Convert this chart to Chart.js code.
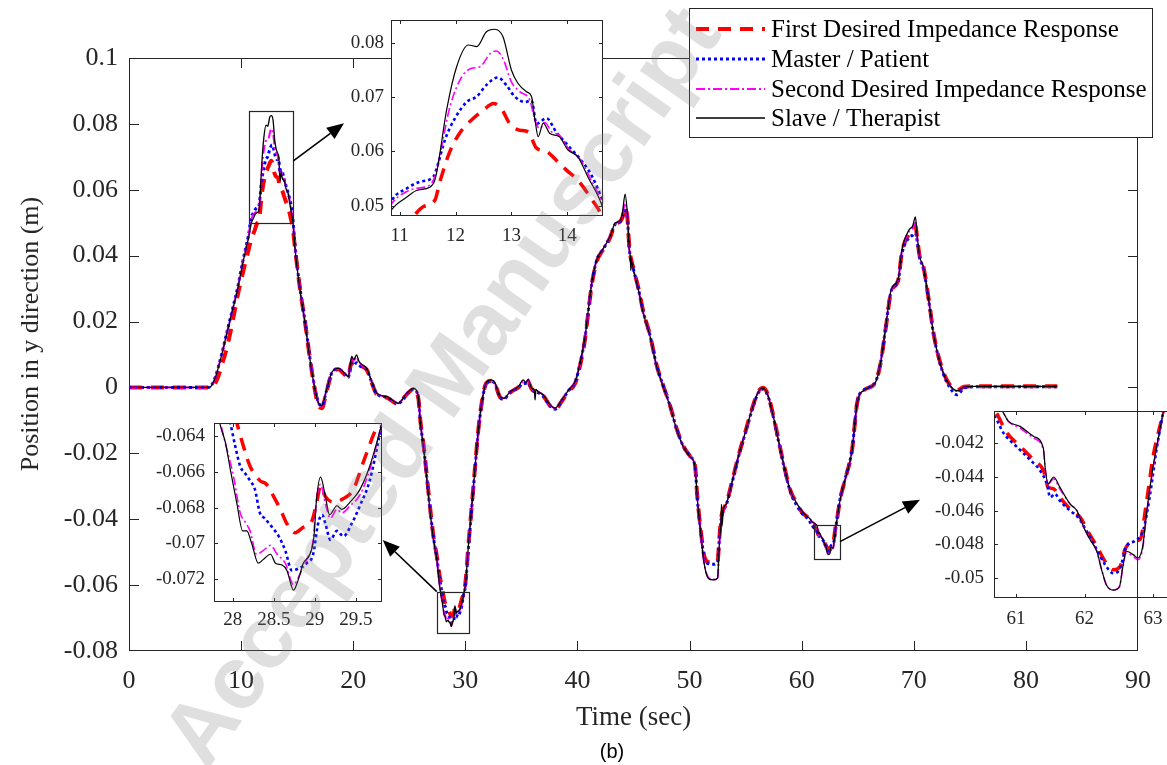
<!DOCTYPE html>
<html>
<head>
<meta charset="utf-8">
<script src="https://cdn.jsdelivr.net/npm/chart.js@4.4.0/dist/chart.umd.min.js"></script>
<style>
  html, body { margin: 0; padding: 0; background: #fff; overflow: hidden; }
  #stage { position: relative; width: 1167px; height: 765px; overflow: hidden; background: #fff; }
  #stage canvas { position: absolute; }
  #edge { position: absolute; left: 1137px; top: 405px; width: 1px; height: 200px; background: #262626; }
  #caption { position: absolute; left: 562px; top: 740px; width: 100px; text-align: center;
             font: 20px "Liberation Sans", Arial, sans-serif; line-height: 22px; color: #000; }
  #watermark { position: absolute; left: 440px; top: 385px; white-space: nowrap; pointer-events: none;
               font: bold 89px "Liberation Sans", Arial, sans-serif; color: rgba(128,128,128,0.25);
               transform: translate(-50%, -50%) rotate(-55deg); }
</style>
</head>
<body>
<div id="stage">
  <canvas id="main" width="1167" height="765" style="left:0;top:0"></canvas>
  <canvas id="zoom1" width="300" height="250" style="left:320px;top:10px"></canvas>
  <canvas id="zoom2" width="260" height="230" style="left:140px;top:410px"></canvas>
  <canvas id="zoom3" width="250" height="250" style="left:930px;top:400px"></canvas>
  <div id="edge"></div>
  <div id="caption">(b)</div>
  <div id="watermark">Accepted Manuscript</div>
</div>
<script>
// time (s), position (m)
const first = [
  [0,0],[7.3,0],[7.8,0.002],[8.3,0.007],[8.8,0.013],[9.3,0.021],[9.7,0.028],[10.1,0.034],[10.5,0.0395],[10.9,0.0448],[11.24,0.048],
  [11.42,0.0498],[11.63,0.051],[11.72,0.0544],[11.9,0.06],[12.11,0.0639],[12.32,0.0661],[12.5,0.0676],[12.68,0.0688],[12.82,0.0679],
  [12.97,0.0651],[13.15,0.0639],[13.3,0.0636],[13.45,0.0606],[13.63,0.06],[13.8,0.0584],[13.98,0.0566],[14.19,0.0547],[14.45,0.051],[14.61,0.0483],
  [14.8,0.0425],[15.25,0.03],[15.7,0.0199],[16.15,0.0085],[16.6,-0.0012],[16.9,-0.0054],[17.2,-0.0063],[17.6,-0.0016],[18.1,0.0043],
  [18.67,0.0055],[19.2,0.004],[19.57,0.003],[19.75,0.0065],[19.87,0.0078],[20.05,0.0075],[20.3,0.0082],[20.5,0.0074],[20.75,0.0065],
  [21.2,0.0054],[21.65,0.0014],[22.1,-0.0021],[23,-0.0031],[24,-0.005],[24.77,-0.0021],[25.36,-0.0006],[25.8,-0.0031],[26,-0.0104],
  [26.3,-0.0182],[26.6,-0.028],[26.9,-0.0378],[27.2,-0.0462],[27.45,-0.051],[27.7,-0.057],[27.9,-0.0605],
  [28.05,-0.0633],[28.13,-0.0646],[28.21,-0.0657],[28.33,-0.0665],[28.41,-0.0667],[28.5,-0.0674],[28.58,-0.0681],[28.66,-0.0689],
  [28.76,-0.0694],[28.86,-0.0691],[28.96,-0.0688],[29.02,-0.0678],[29.07,-0.0668],[29.13,-0.0674],[29.23,-0.0677],[29.35,-0.0675],
  [29.47,-0.067],[29.59,-0.0655],[29.72,-0.0639],[29.78,-0.0633],
  [30,-0.0595],[30.3,-0.0468],[30.6,-0.0348],[30.9,-0.0228],[31.16,-0.0128],[31.46,-0.0047],[31.85,0.0012],[32.35,0.002],[32.65,0.001],
  [33.1,-0.003],[33.45,-0.0035],[34,-0.0015],[34.73,0],[35.17,0.0014],[35.62,0.0015],[35.92,-0.0005],[36.5,-0.0016],[36.96,-0.0026],
  [37.56,-0.0056],[38,-0.0067],[38.6,-0.0042],[39.2,-0.0012],[39.8,0.0013],[40.23,0.0066],[40.68,0.0147],[40.97,0.0228],[41.27,0.031],
  [41.72,0.0382],[42.31,0.0419],[42.91,0.0455],[43.35,0.0494],[43.8,0.0503],[44,0.0515],[44.25,0.0545],[44.45,0.0518],[44.63,0.0425],
  [44.99,0.0362],[45.44,0.0301],[45.88,0.023],[46.48,0.0158],[47.07,0.0067],[47.66,0.0005],[48.26,-0.0055],[48.86,-0.0126],
  [49.45,-0.0178],[50.04,-0.0208],[50.49,-0.0238],[50.7,-0.0335],[51,-0.0432],[51.3,-0.051],[51.68,-0.053],[52.1,-0.0532],[52.5,-0.0528],
  [52.66,-0.0455],[52.8,-0.04],[53,-0.0372],[53.3,-0.035],[53.76,-0.029],[54.35,-0.0209],[54.95,-0.0138],[55.55,-0.0067],[56.14,-0.0012],
  [56.58,-0.0001],[57.03,-0.0026],[57.48,-0.0087],[57.92,-0.0157],[58.37,-0.0228],[58.97,-0.031],[59.56,-0.0352],[60.1,-0.0382],[60.5,-0.0393],
  [60.7,-0.0401],[60.87,-0.0414],[61.04,-0.0421],[61.26,-0.043],[61.4,-0.0436],[61.47,-0.0446],[61.55,-0.0447],[61.64,-0.0452],
  [61.79,-0.0459],[61.94,-0.0464],[62.06,-0.0473],[62.18,-0.0481],[62.3,-0.049],[62.42,-0.0495],[62.52,-0.0493],[62.59,-0.0483],
  [62.71,-0.0478],[62.81,-0.0477],[62.9,-0.0456],[63,-0.0428],[63.15,-0.0401],
  [63.43,-0.034],[63.87,-0.028],[64.5,-0.0189],[64.95,-0.0047],[65.6,-0.0007],[66.55,0.0014],[67.03,0.0072],[67.5,0.018],[67.98,0.029],
  [68.62,0.0327],[68.94,0.041],[69.57,0.0465],[69.9,0.0475],[70.15,0.049],[70.3,0.0455],[70.53,0.0397],[70.85,0.0368],[71.33,0.0268],
  [71.8,0.0157],[72.44,0.0066],[73.08,0.0015],[73.87,-0.0008],[74.5,0.0002],[75.5,0.0004],[82.8,0.0004]
];

const master = [
  [0,0],[7,0],[7.3,0.0004],[7.7,0.0032],[8.2,0.0092],[8.7,0.0163],[9.2,0.0233],[9.7,0.0305],[10.1,0.0375],[10.4,0.0422],[10.7,0.047],
  [10.86,0.051],[11.13,0.0532],[11.36,0.0544],[11.6,0.0553],[11.69,0.0578],[11.81,0.0621],[11.99,0.0661],[12.2,0.0691],[12.38,0.0701],
  [12.55,0.0722],[12.76,0.0736],[12.91,0.0722],[13.06,0.0701],[13.24,0.0691],[13.36,0.0694],[13.45,0.0651],[13.63,0.0661],[13.8,0.0636],
  [14.04,0.0608],[14.27,0.0581],[14.45,0.0553],[14.64,0.0504],
  [14.8,0.0432],[15.25,0.0302],[15.7,0.0201],[16.15,0.0087],[16.6,-0.0006],[16.9,-0.0046],[17.2,-0.0056],[17.6,-0.0012],[18.1,0.0045],
  [18.67,0.0056],[19.2,0.0042],[19.57,0.0031],[19.75,0.006],[19.87,0.0072],[20.05,0.0068],[20.3,0.0075],[20.5,0.0068],[20.75,0.0062],
  [21.2,0.0054],[21.65,0.0016],[22.1,-0.0019],[23,-0.003],[24,-0.0049],[24.77,-0.002],[25.36,-0.0005],[25.8,-0.003],[26,-0.0108],
  [26.3,-0.0188],[26.6,-0.0286],[26.9,-0.0385],[27.2,-0.0465],[27.45,-0.0515],[27.7,-0.058],
  [27.97,-0.0633],[28.03,-0.0646],[28.09,-0.0657],[28.15,-0.0661],[28.21,-0.0665],[28.27,-0.067],[28.33,-0.0683],[28.39,-0.0686],
  [28.48,-0.0691],[28.56,-0.0696],[28.64,-0.0704],[28.72,-0.0715],[28.8,-0.0714],[28.9,-0.0711],[28.98,-0.0706],[29.04,-0.0689],
  [29.09,-0.0684],[29.13,-0.0689],[29.19,-0.0698],[29.27,-0.0693],[29.35,-0.0696],[29.45,-0.0689],[29.55,-0.0679],[29.67,-0.0665],
  [29.78,-0.0642],[29.82,-0.0633],
  [30,-0.0605],[30.3,-0.0478],[30.6,-0.0356],[30.9,-0.0234],[31.16,-0.0133],[31.46,-0.0051],[31.85,0.0011],[32.35,0.002],[32.65,0.001],
  [33.1,-0.003],[33.45,-0.0035],[34,-0.0015],[34.73,0],[35.17,0.0012],[35.62,0.0013],[35.92,-0.0006],[36.5,-0.0016],[36.96,-0.0026],
  [37.56,-0.0056],[38,-0.0066],[38.6,-0.004],[39.2,-0.001],[39.8,0.0016],[40.23,0.0071],[40.68,0.0152],[40.97,0.0233],[41.27,0.0314],
  [41.72,0.0386],[42.31,0.0421],[42.91,0.0457],[43.35,0.0495],[43.8,0.0503],[44,0.0514],[44.25,0.0545],[44.45,0.0515],[44.63,0.042],
  [44.99,0.036],[45.44,0.0299],[45.88,0.0228],[46.48,0.0157],[47.07,0.0066],[47.66,0.0004],[48.26,-0.0056],[48.86,-0.0127],
  [49.45,-0.0179],[50.04,-0.0209],[50.49,-0.0241],[50.7,-0.034],[51,-0.0438],[51.3,-0.0515],[51.68,-0.0535],[52.1,-0.0537],[52.5,-0.053],
  [52.66,-0.046],[52.8,-0.0405],[53,-0.0375],[53.3,-0.0354],[53.76,-0.0294],[54.35,-0.0213],[54.95,-0.0142],[55.55,-0.0071],[56.14,-0.0016],
  [56.58,-0.0005],[57.03,-0.003],[57.48,-0.0091],[57.92,-0.0161],[58.37,-0.0233],[58.97,-0.0315],[59.56,-0.0358],[60.1,-0.0385],[60.5,-0.0396],
  [60.69,-0.0404],[60.82,-0.0414],[61.01,-0.0422],[61.21,-0.043],[61.35,-0.0436],[61.45,-0.0444],[61.5,-0.0452],[61.57,-0.045],
  [61.64,-0.0454],[61.79,-0.046],[61.91,-0.0464],[62.03,-0.0472],[62.18,-0.0483],[62.3,-0.0492],[62.42,-0.0497],[62.52,-0.0494],
  [62.61,-0.0481],[62.73,-0.0478],[62.86,-0.0471],[62.95,-0.0452],[63.05,-0.0424],[63.15,-0.0401],
  [63.43,-0.0338],[63.87,-0.0278],[64.5,-0.0187],[64.95,-0.0046],[65.6,-0.0007],[66.55,0.0014],[67.03,0.0074],[67.5,0.0183],[67.98,0.0292],
  [68.62,0.0326],[68.94,0.0405],[69.57,0.0455],[69.9,0.0462],[70.15,0.047],[70.3,0.0445],[70.53,0.0392],[70.85,0.0363],[71.33,0.0264],
  [71.8,0.0154],[72.44,0.0062],[73.08,0.0008],[73.87,-0.0022],[74.5,-0.0002],[75.5,0.0002],[82.8,0.0002]
];

const second = [
  [0,0],[7,0],[7.3,0.0003],[7.7,0.003],[8.2,0.009],[8.7,0.016],[9.2,0.023],[9.7,0.0302],[10.1,0.0372],[10.4,0.0418],[10.7,0.0468],
  [10.86,0.0504],[11.13,0.0526],[11.3,0.0532],[11.54,0.0538],[11.65,0.056],[11.75,0.0609],[11.9,0.0682],[12.11,0.0737],[12.29,0.0753],
  [12.44,0.0756],[12.62,0.078],[12.73,0.0785],[12.85,0.0771],[13,0.0728],[13.15,0.071],[13.33,0.0694],[13.42,0.0658],[13.51,0.0642],
  [13.6,0.0653],[13.72,0.0636],[13.86,0.063],[14.04,0.0603],[14.22,0.0587],[14.4,0.0553],[14.64,0.0498],
  [14.8,0.0427],[15.25,0.0297],[15.7,0.0197],[16.15,0.0084],[16.6,-0.0008],[16.9,-0.0048],[17.2,-0.0056],[17.6,-0.0011],[18.1,0.0046],
  [18.67,0.0057],[19.2,0.0043],[19.57,0.0032],[19.75,0.0072],[19.87,0.0088],[20.05,0.0082],[20.3,0.0092],[20.5,0.0077],[20.75,0.0068],
  [21.2,0.0057],[21.65,0.0017],[22.1,-0.0018],[23,-0.0029],[24,-0.0048],[24.77,-0.0019],[25.36,-0.0004],[25.8,-0.0029],[26,-0.0108],
  [26.3,-0.0188],[26.6,-0.0288],[26.9,-0.0388],[27.2,-0.0468],[27.45,-0.0518],[27.7,-0.0598],
  [27.85,-0.0633],[27.93,-0.0648],[28.01,-0.0663],[28.09,-0.0683],[28.15,-0.0688],[28.21,-0.0693],[28.29,-0.0706],[28.37,-0.0704],
  [28.46,-0.0701],[28.54,-0.0706],[28.64,-0.0711],[28.74,-0.0723],[28.82,-0.0717],[28.9,-0.0709],[28.98,-0.0698],[29.02,-0.0676],
  [29.07,-0.0667],[29.13,-0.0678],[29.19,-0.0686],[29.27,-0.0681],[29.33,-0.0683],[29.43,-0.0679],[29.55,-0.0673],[29.67,-0.0659],[29.82,-0.0633],
  [30,-0.0601],[30.3,-0.0471],[30.6,-0.0351],[30.9,-0.0231],[31.16,-0.0131],[31.46,-0.0049],[31.85,0.0012],[32.35,0.0022],[32.65,0.0012],
  [33.1,-0.0028],[33.45,-0.0033],[34,-0.0013],[34.73,0.0002],[35.17,0.0018],[35.62,0.002],[35.92,-0.0004],[36.5,-0.0013],[36.96,-0.0023],
  [37.56,-0.0053],[38,-0.0063],[38.6,-0.0038],[39.2,-0.0008],[39.8,0.0018],[40.23,0.0073],[40.68,0.0154],[40.97,0.0235],[41.27,0.0316],
  [41.72,0.0387],[42.31,0.0422],[42.91,0.0458],[43.35,0.0497],[43.8,0.0505],[44,0.052],[44.25,0.056],[44.45,0.0522],[44.63,0.0417],
  [44.99,0.0357],[45.44,0.0296],[45.88,0.0225],[46.48,0.0154],[47.07,0.0063],[47.66,0.0002],[48.26,-0.0058],[48.86,-0.0129],
  [49.45,-0.018],[50.04,-0.021],[50.49,-0.024],[50.7,-0.0341],[51,-0.0443],[51.3,-0.0532],[51.68,-0.0578],[52.1,-0.0583],[52.5,-0.0578],
  [52.66,-0.0472],[52.8,-0.041],[53,-0.0378],[53.3,-0.0352],[53.76,-0.0291],[54.35,-0.021],[54.95,-0.0139],[55.55,-0.0068],[56.14,-0.0013],
  [56.58,-0.0002],[57.03,-0.0028],[57.48,-0.0089],[57.92,-0.0159],[58.37,-0.023],[58.97,-0.0311],[59.56,-0.0352],[60.1,-0.0378],[60.5,-0.0392],
  [60.8,-0.0401],[60.89,-0.0407],[61.06,-0.0411],[61.26,-0.0417],[61.4,-0.0424],[61.43,-0.0436],[61.47,-0.0444],[61.55,-0.0441],
  [61.64,-0.0447],[61.79,-0.0456],[61.89,-0.046],[61.98,-0.0469],[62.08,-0.0477],[62.18,-0.0484],[62.25,-0.0495],[62.32,-0.0504],
  [62.42,-0.0507],[62.51,-0.0505],[62.56,-0.0493],[62.61,-0.0485],[62.71,-0.0487],[62.78,-0.0489],[62.85,-0.0482],[62.9,-0.0464],
  [63,-0.0435],[63.1,-0.0413],[63.15,-0.0402],
  [63.43,-0.0342],[63.87,-0.0282],[64.5,-0.0191],[64.95,-0.0049],[65.6,-0.0009],[66.55,0.0013],[67.03,0.0073],[67.5,0.0184],[67.98,0.0295],
  [68.62,0.033],[68.94,0.0414],[69.57,0.0473],[69.9,0.0482],[70.15,0.05],[70.3,0.0455],[70.53,0.0396],[70.85,0.0366],[71.33,0.0265],
  [71.8,0.0154],[72.44,0.0063],[73.08,0.0013],[73.87,-0.0011],[74.5,0.0001],[75.5,0.0003],[82.8,0.0003]
];

const slave = [
  [0,0],[7,0],[7.3,0.0003],[7.7,0.003],[8.2,0.009],[8.7,0.016],[9.2,0.023],[9.7,0.03],[10.1,0.037],[10.4,0.0415],[10.7,0.046],
  [10.86,0.0493],[11.13,0.0516],[11.3,0.0528],[11.54,0.0534],[11.63,0.0547],[11.69,0.0577],[11.84,0.0676],[12.02,0.0756],[12.23,0.0796],
  [12.38,0.0793],[12.55,0.082],[12.7,0.0825],[12.85,0.0811],[13,0.075],[13.12,0.0725],[13.27,0.071],[13.36,0.0701],[13.42,0.066],
  [13.48,0.0627],[13.57,0.0652],[13.69,0.0633],[13.86,0.0627],[14.01,0.0603],[14.19,0.059],[14.37,0.0553],[14.64,0.0495],
  [14.8,0.0425],[15.25,0.0296],[15.7,0.0196],[16.15,0.0083],[16.6,-0.0008],[16.9,-0.0047],[17.2,-0.0055],[17.6,-0.001],[18.1,0.0046],
  [18.67,0.0058],[19.2,0.0044],[19.57,0.0033],[19.75,0.0075],[19.87,0.0094],[20.05,0.0085],[20.3,0.0099],[20.5,0.008],[20.75,0.007],
  [21.2,0.0058],[21.65,0.0018],[22.1,-0.0018],[23,-0.0028],[24,-0.0048],[24.77,-0.0018],[25.36,-0.0003],[25.8,-0.0028],[26,-0.011],
  [26.3,-0.019],[26.6,-0.029],[26.9,-0.039],[27.2,-0.047],[27.45,-0.052],[27.7,-0.06],
  [27.84,-0.0633],[27.91,-0.0644],[27.97,-0.0659],[28.05,-0.0678],[28.12,-0.0693],[28.17,-0.0693],[28.23,-0.07],[28.31,-0.0711],
  [28.37,-0.0709],[28.46,-0.0706],[28.52,-0.0711],[28.6,-0.0712],[28.66,-0.0715],[28.74,-0.0726],[28.8,-0.072],[28.86,-0.0711],
  [28.94,-0.0706],[28.99,-0.0696],[29.02,-0.0676],[29.07,-0.0663],[29.13,-0.0674],[29.18,-0.0684],[29.27,-0.0679],[29.33,-0.0681],
  [29.43,-0.0677],[29.55,-0.067],[29.67,-0.0657],[29.82,-0.0633],
  [30,-0.06],[30.3,-0.047],[30.6,-0.035],[30.9,-0.023],[31.16,-0.013],[31.46,-0.0048],[31.85,0.0013],[32.35,0.0023],[32.65,0.0013],
  [33.1,-0.0028],[33.45,-0.0033],[34,-0.0013],[34.73,0.0002],[35.17,0.0023],[35.4,0.0015],[35.62,0.0025],[35.92,-0.0003],[36.15,-0.0008],
  [36.22,-0.0038],[36.3,-0.0006],[36.5,-0.0013],[36.96,-0.0023],[37.56,-0.0053],[38,-0.0063],[38.6,-0.0038],[39.2,-0.0008],[39.8,0.0018],
  [40.23,0.0073],[40.68,0.0154],[40.97,0.0235],[41.27,0.0316],[41.72,0.0387],[42.31,0.0422],[42.91,0.0458],[43.35,0.0498],[43.8,0.0506],
  [44,0.0525],[44.25,0.0587],[44.45,0.0528],[44.63,0.0417],[44.72,0.0395],[44.76,0.0355],[44.8,0.0385],[44.99,0.0357],[45.44,0.0296],
  [45.88,0.0225],[46.48,0.0154],[47.07,0.0063],[47.66,0.0002],[48.26,-0.0058],[48.86,-0.0129],[49.45,-0.018],[50.04,-0.021],[50.49,-0.024],
  [50.7,-0.0341],[51,-0.0443],[51.3,-0.0534],[51.68,-0.0579],[52.1,-0.0584],[52.5,-0.0579],[52.66,-0.0473],[52.8,-0.041],[52.85,-0.0355],
  [52.9,-0.042],[53,-0.0375],[53.3,-0.0352],[53.76,-0.0291],[54.35,-0.021],[54.95,-0.0139],[55.55,-0.0068],[56.14,-0.0013],[56.58,-0.0002],
  [57.03,-0.0028],[57.48,-0.0089],[57.92,-0.0159],[58.37,-0.023],[58.97,-0.0311],[59.56,-0.0352],[60.1,-0.0378],[60.5,-0.0392],
  [60.8,-0.0401],[60.89,-0.0407],[61.06,-0.041],[61.26,-0.0416],[61.4,-0.0423],[61.43,-0.0436],[61.47,-0.0444],[61.55,-0.044],
  [61.64,-0.0446],[61.79,-0.0456],[61.89,-0.046],[61.98,-0.0469],[62.08,-0.0477],[62.18,-0.0484],[62.25,-0.0495],[62.32,-0.0504],
  [62.42,-0.0507],[62.51,-0.0505],[62.56,-0.0493],[62.61,-0.0484],[62.71,-0.0486],[62.78,-0.0488],[62.85,-0.0481],[62.9,-0.0463],
  [63,-0.0434],[63.1,-0.0412],[63.15,-0.0401],
  [63.43,-0.0341],[63.87,-0.0281],[64.5,-0.019],[64.95,-0.0048],[65.6,-0.0008],[66.55,0.0013],[67.03,0.0073],[67.5,0.0185],[67.98,0.0296],
  [68.62,0.0331],[68.94,0.0417],[69.57,0.0478],[69.9,0.049],[70.15,0.0518],[70.3,0.046],[70.53,0.0397],[70.85,0.0367],[71.33,0.0266],
  [71.8,0.0154],[72.44,0.0063],[73.08,0.0013],[73.87,-0.001],[74.5,0.0001],[75.5,0.0003],[82.8,0.0003]
];

const seriesLabels = ['First Desired Impedance Response', 'Master / Patient', 'Second Desired Impedance Response', 'Slave / Therapist'];
const seriesList = [first, master, second, slave];

const xTicksMain = [0, 10, 20, 30, 40, 50, 60, 70, 80, 90];
const yTicksMain = [-0.08, -0.06, -0.04, -0.02, 0, 0.02, 0.04, 0.06, 0.08, 0.1];
const xTicksZoom1 = [11, 12, 13, 14];
const yTicksZoom1 = [0.05, 0.06, 0.07, 0.08];
const xTicksZoom2 = [28, 28.5, 29, 29.5];
const yTicksZoom2 = [-0.072, -0.07, -0.068, -0.066, -0.064];
const xTicksZoom3 = [61, 62, 63];
const yTicksZoom3 = [-0.05, -0.048, -0.046, -0.044, -0.042];

// zoomed windows marked on the main axes, and where the arrows point (data units)
const zoomBoxes = [
  { t: [10.73, 14.66], v: [0.05, 0.084] },
  { t: [27.45, 30.33], v: [-0.0744, -0.062] },
  { t: [61.13, 63.42], v: [-0.0521, -0.0419] }
];
const zoomArrows = [
  { from: [14.66, 0.0688], to: [19.18, 0.0802] },
  { from: [27.45, -0.062], to: [22.63, -0.0463] },
  { from: [63.42, -0.0468], to: [70.56, -0.0341] }
];

const SERIF = '"Liberation Serif", "Times New Roman", serif';
const INK = '#262626';
const seriesStyles = [
  { color: '#ff0000', dash: [13, 9], main: 4, inset: 3.5, order: 4 },
  { color: '#0000ff', dash: [3, 3], main: 3, inset: 2.6, order: 3 },
  { color: '#ff00ff', dash: [9, 3, 2, 3], main: 2, inset: 1.6, order: 2 },
  { color: '#000000', dash: [], main: 1.3, inset: 1.2, order: 1 }
];

function makeSets(kind) {
  return seriesList.map((pts, i) => ({
    label: seriesLabels[i],
    data: pts.map(p => ({ x: p[0], y: p[1] })),
    borderColor: seriesStyles[i].color,
    borderWidth: seriesStyles[i][kind],
    borderDash: seriesStyles[i].dash,
    pointRadius: 0,
    fill: false,
    clip: 0,
    cubicInterpolationMode: 'monotone',
    capBezierPoints: false,
    order: seriesStyles[i].order
  }));
}

const tickFmt = v => String(+Number(v).toFixed(4));

function axis(min, max, ticks, size, pad, fit, title) {
  return {
    type: 'linear', min, max, bounds: 'data',
    afterBuildTicks: s => { s.ticks = ticks.map(v => ({ value: v })); },
    afterFit: s => {
      if (s.isHorizontal()) s.height = fit; else s.width = fit;
      s.paddingLeft = 0; s.paddingRight = 0; s.paddingTop = 0; s.paddingBottom = 0;
    },
    grid: { display: false, drawTicks: false },
    border: { display: false },
    ticks: { autoSkip: false, maxRotation: 0, padding: pad, color: INK, font: { family: SERIF, size }, callback: tickFmt },
    title: title || { display: false }
  };
}

function arrow(ctx, x0, y0, x1, y1) {
  const a = Math.atan2(y1 - y0, x1 - x0), L = 17, W = 7;
  const bx = x1 - L * Math.cos(a), by = y1 - L * Math.sin(a);
  ctx.beginPath(); ctx.moveTo(x0, y0); ctx.lineTo(bx, by); ctx.stroke();
  ctx.beginPath();
  ctx.moveTo(x1, y1);
  ctx.lineTo(bx + W * Math.sin(a), by - W * Math.cos(a));
  ctx.lineTo(bx - W * Math.sin(a), by + W * Math.cos(a));
  ctx.closePath(); ctx.fill();
}

// matlab-like box: white plot area, frame, inward ticks on all sides, plus extras
function framePlugin(cfg) {
  return {
    id: 'frame',
    beforeDraw(chart) {
      const { ctx, chartArea: a } = chart;
      ctx.save(); ctx.fillStyle = '#fff';
      ctx.fillRect(a.left, a.top, a.right - a.left, a.bottom - a.top);
      ctx.restore();
    },
    afterDraw(chart) {
      const { ctx, chartArea: a } = chart;
      const x = chart.scales.x, y = chart.scales.y;
      ctx.save();
      ctx.strokeStyle = INK; ctx.lineWidth = 1; ctx.setLineDash([]);
      ctx.strokeRect(a.left + 0.5, a.top + 0.5, a.right - a.left - 1, a.bottom - a.top - 1);
      ctx.beginPath();
      x.ticks.forEach(t => {
        const p = Math.round(x.getPixelForValue(t.value)) + 0.5;
        if (p < a.left + 2 || p > a.right - 2) return;
        ctx.moveTo(p, a.bottom); ctx.lineTo(p, a.bottom - cfg.tickLen);
        ctx.moveTo(p, a.top); ctx.lineTo(p, a.top + cfg.tickLen);
      });
      y.ticks.forEach(t => {
        const p = Math.round(y.getPixelForValue(t.value)) + 0.5;
        if (p < a.top + 2 || p > a.bottom - 2) return;
        ctx.moveTo(a.left, p); ctx.lineTo(a.left + cfg.tickLen, p);
        ctx.moveTo(a.right, p); ctx.lineTo(a.right - cfg.tickLen, p);
      });
      ctx.stroke();

      if (cfg.yTitle) {
        const t = cfg.yTitle;
        ctx.save();
        ctx.translate(t.x, t.y); ctx.rotate(-Math.PI / 2);
        ctx.font = t.size + 'px ' + SERIF; ctx.fillStyle = INK;
        ctx.textAlign = 'center'; ctx.textBaseline = 'middle';
        ctx.fillText(t.text, 0, 0);
        ctx.restore();
      }
      if (cfg.boxes) {
        ctx.lineWidth = 1.2;
        cfg.boxes.forEach(b => {
          const l = x.getPixelForValue(b.t[0]), r = x.getPixelForValue(b.t[1]);
          const tp = y.getPixelForValue(b.v[1]), bt = y.getPixelForValue(b.v[0]);
          ctx.strokeRect(Math.round(l) + 0.5, Math.round(tp) + 0.5, Math.round(r - l), Math.round(bt - tp));
        });
      }
      if (cfg.arrows) {
        ctx.strokeStyle = '#000'; ctx.fillStyle = '#000'; ctx.lineWidth = 1.6;
        cfg.arrows.forEach(ar => arrow(ctx,
          x.getPixelForValue(ar.from[0]), y.getPixelForValue(ar.from[1]),
          x.getPixelForValue(ar.to[0]), y.getPixelForValue(ar.to[1])));
      }
      if (cfg.legend) {
        const g = cfg.legend;
        ctx.fillStyle = '#fff';
        ctx.fillRect(g.box[0], g.box[1], g.box[2] - g.box[0], g.box[3] - g.box[1]);
        ctx.strokeStyle = INK; ctx.lineWidth = 1;
        ctx.strokeRect(g.box[0] + 0.5, g.box[1] + 0.5, g.box[2] - g.box[0], g.box[3] - g.box[1]);
        ctx.font = g.size + 'px ' + SERIF;
        ctx.textBaseline = 'middle'; ctx.textAlign = 'left';
        chart.data.datasets.forEach((ds, i) => {
          const yy = g.rows[i];
          ctx.strokeStyle = ds.borderColor; ctx.lineWidth = ds.borderWidth;
          ctx.setLineDash(ds.borderDash);
          ctx.beginPath(); ctx.moveTo(g.sample[0], yy); ctx.lineTo(g.sample[1], yy); ctx.stroke();
          ctx.setLineDash([]);
          ctx.fillStyle = '#000';
          ctx.fillText(ds.label, g.textX, yy + 1);
        });
      }
      ctx.restore();
    }
  };
}

function makeChart(id, c) {
  return new Chart(document.getElementById(id), {
    type: 'line',
    data: { datasets: makeSets(c.kind) },
    options: {
      responsive: false, animation: false, events: [],
      layout: { padding: c.pad },
      plugins: { legend: { display: false }, tooltip: { enabled: false } },
      scales: { x: c.x, y: c.y }
    },
    plugins: [framePlugin(c.frame)]
  });
}

makeChart('main', {
  kind: 'main',
  pad: { left: 0, top: 58, right: 29, bottom: 0 },
  x: axis(0, 90, xTicksMain, 26, 15, 114,
    { display: true, text: 'Time (sec)', color: INK, font: { family: SERIF, size: 27 }, padding: { top: 0, bottom: 31 } }),
  y: axis(-0.08, 0.1, yTicksMain, 26, 11, 129),
  frame: {
    tickLen: 10, boxes: zoomBoxes, arrows: zoomArrows,
    yTitle: { text: 'Position in y direction (m)', x: 31, y: 334, size: 26 },
    legend: { box: [689, 8, 1152, 137], sample: [696, 765], textX: 771, rows: [29, 59, 89, 118], size: 25 }
  }
});

makeChart('zoom1', {
  kind: 'inset',
  pad: { left: 0, top: 10, right: 17, bottom: 0 },
  x: axis(10.845, 14.64, xTicksZoom1, 19, 9, 44),
  y: axis(0.0481, 0.0842, yTicksZoom1, 19, 7, 71),
  frame: { tickLen: 4 }
});

makeChart('zoom2', {
  kind: 'inset',
  pad: { left: 0, top: 13, right: 18, bottom: 0 },
  x: axis(27.77, 29.82, xTicksZoom2, 19, 7, 38),
  y: axis(-0.07326, -0.06329, yTicksZoom2, 19, 9, 74),
  frame: { tickLen: 4 }
});

makeChart('zoom3', {
  kind: 'inset',
  pad: { left: 0, top: 11, right: 5, bottom: 0 },
  x: axis(60.68, 63.32, xTicksZoom3, 19, 10, 52),
  y: axis(-0.05117, -0.04009, yTicksZoom3, 19, 10, 64),
  frame: { tickLen: 4 }
});
</script>
</body>
</html>
